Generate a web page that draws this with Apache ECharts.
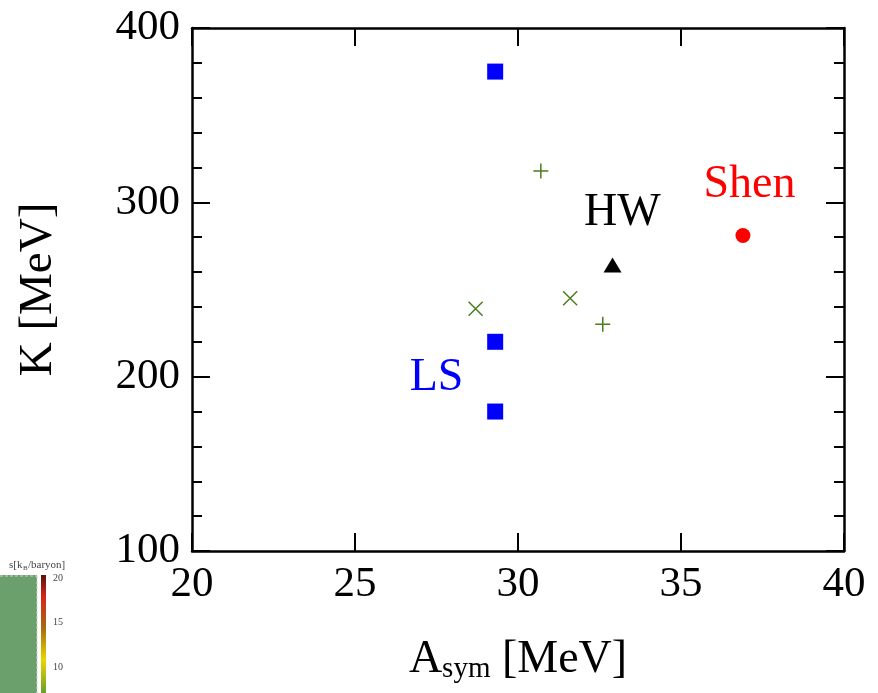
<!DOCTYPE html>
<html>
<head>
<meta charset="utf-8">
<script src="https://cdn.jsdelivr.net/npm/echarts@6/dist/echarts.min.js"></script>
<style>
  html, body { margin: 0; padding: 0; background: #fff; }
  #main { width: 878px; height: 693px; }
</style>
</head>
<body>
<div id="main"></div>
<script>
var myChart = echarts.init(document.getElementById('main'));

// data: [Asym, K]
var lsPoints = [[29.3, 375], [29.3, 220], [29.3, 180]];
var shenPoints = [[36.9, 281]];
var hwPoints = [[32.9, 264]];
var plusPoints = [[30.7, 318], [32.6, 230]];
var crossPoints = [[28.7, 239], [31.6, 245]];
// where the model names sit
var labelNames = ['Shen', 'HW', 'LS'];
var labelPos = [[37.1, 310], [33.2, 294], [27.5, 199]];
var labelColors = ['#ff0000', '#000000', '#0000ff'];

var serif = 'Liberation Serif, Times New Roman, serif';
var green = '#4b7d1e';

function frameAxis(pos, showLabel) {
  return {
    position: pos,
    axisLine: { show: true, onZero: false, lineStyle: { color: '#000', width: 2.5 } },
    axisTick: { show: true, inside: true, length: 18, lineStyle: { color: '#000', width: 2 } },
    axisLabel: { show: showLabel, color: '#000', fontFamily: serif, fontSize: 43, margin: 10 },
    splitLine: { show: false }
  };
}

var xBottom = frameAxis('bottom', true);
xBottom.min = 20; xBottom.max = 40; xBottom.interval = 5; xBottom.type = 'value';
xBottom.axisLabel.margin = 12;
xBottom.name = '{a|A}{s|sym}{a| [MeV]}';
xBottom.nameLocation = 'middle';
xBottom.nameGap = 84;
xBottom.nameTextStyle = {
  rich: {
    a: { fontFamily: serif, fontSize: 46, color: '#000' },
    s: { fontFamily: serif, fontSize: 29, color: '#000', padding: [20, 0, 0, 0] }
  }
};
var xTop = frameAxis('top', false);
xTop.min = 20; xTop.max = 40; xTop.interval = 5; xTop.type = 'value';

function yFrame(pos, showLabel) {
  var a = frameAxis(pos, showLabel);
  a.type = 'value'; a.min = 100; a.max = 400; a.interval = 100;
  a.minorTick = { show: true, splitNumber: 5, length: 10, lineStyle: { color: '#000', width: 2 } };
  return a;
}
var yLeft = yFrame('left', true);
yLeft.axisLabel.margin = 12;
yLeft.name = 'K [MeV]';
yLeft.nameLocation = 'middle';
yLeft.nameGap = 130;
yLeft.nameTextStyle = { fontFamily: serif, fontSize: 47, color: '#000' };
var yRight = yFrame('right', false);

option = {
  animation: false,
  backgroundColor: '#fff',
  grid: { left: 192, top: 28, right: 34, bottom: 142 },
  xAxis: [xBottom, xTop],
  yAxis: [yLeft, yRight],
  series: [
    {
      name: 'LS', type: 'scatter', data: lsPoints,
      symbol: 'rect', symbolSize: 16,
      itemStyle: { color: '#0000ff', opacity: 1 }
    },
    {
      name: 'Shen', type: 'scatter', data: shenPoints,
      symbol: 'circle', symbolSize: 15,
      itemStyle: { color: '#ff0000', opacity: 1 }
    },
    {
      name: 'HW', type: 'scatter', data: hwPoints,
      symbol: 'triangle', symbolSize: [18, 15],
      itemStyle: { color: '#000', opacity: 1 }
    },
    {
      name: 'plus', type: 'scatter', data: plusPoints,
      symbol: 'path://M0,7L14,7M7,0L7,14', symbolSize: 15,
      itemStyle: { color: 'transparent', borderColor: green, borderWidth: 1.5, opacity: 1 }
    },
    {
      name: 'cross', type: 'scatter', data: crossPoints,
      symbol: 'path://M0,0L14,14M14,0L0,14', symbolSize: 14,
      itemStyle: { color: 'transparent', borderColor: green, borderWidth: 1.5, opacity: 1 }
    },
    {
      name: 'names', type: 'scatter', symbolSize: 0, silent: true,
      itemStyle: { opacity: 1 },
      data: labelNames.map(function (n, i) {
        return {
          name: n, value: labelPos[i],
          label: { show: true, position: 'inside', formatter: '{b}', color: labelColors[i],
                   opacity: 1, fontFamily: serif, fontSize: 46 }
        };
      })
    }
  ],
  graphic: [
    // fragment of a neighbouring figure in the lower left corner
    { type: 'rect', shape: { x: 0, y: 575, width: 37, height: 118 },
      style: { fill: '#6b9f6c' } },
    { type: 'line', shape: { x1: 0, y1: 576, x2: 37, y2: 576 },
      style: { stroke: '#c8d8c8', lineWidth: 1, lineDash: [3, 2] } },
    { type: 'line', shape: { x1: 37, y1: 576, x2: 37, y2: 693 },
      style: { stroke: '#c8d8c8', lineWidth: 1, lineDash: [3, 2] } },
    { type: 'rect', shape: { x: 41, y: 575, width: 5, height: 118 },
      style: { fill: new echarts.graphic.LinearGradient(0, 0, 0, 1, [
        { offset: 0, color: '#5a1208' },
        { offset: 0.18, color: '#d8241a' },
        { offset: 0.45, color: '#a86a10' },
        { offset: 0.72, color: '#e8d800' },
        { offset: 1, color: '#6aa028' }
      ]) } },
    { type: 'text', x: 9, y: 565, style: { text: 's[k', font: '11px ' + serif, fill: '#444', verticalAlign: 'middle' } },
    { type: 'text', x: 23, y: 568, style: { text: 'B', font: '7px ' + serif, fill: '#444', verticalAlign: 'middle' } },
    { type: 'text', x: 28, y: 565, style: { text: '/baryon]', font: '11px ' + serif, fill: '#444', verticalAlign: 'middle' } },
    { type: 'text', x: 53, y: 578, style: { text: '20', font: '10px ' + serif, fill: '#444', verticalAlign: 'middle' } },
    { type: 'text', x: 53, y: 622, style: { text: '15', font: '10px ' + serif, fill: '#444', verticalAlign: 'middle' } },
    { type: 'text', x: 53, y: 667, style: { text: '10', font: '10px ' + serif, fill: '#444', verticalAlign: 'middle' } }
  ]
};

myChart.setOption(option);
</script>
</body>
</html>
